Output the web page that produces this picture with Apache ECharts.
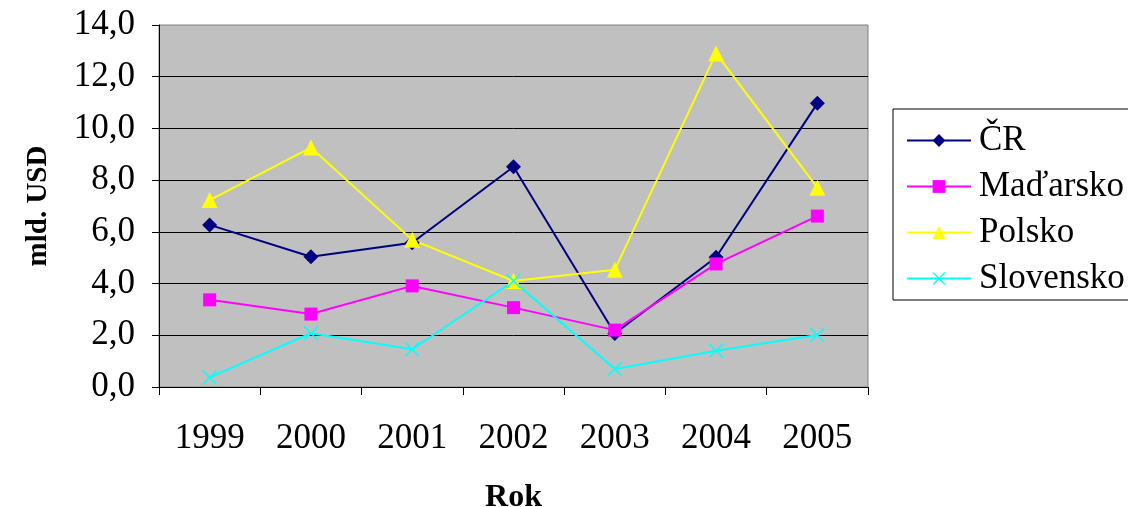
<!DOCTYPE html>
<html>
<head>
<meta charset="utf-8">
<script src="https://cdn.jsdelivr.net/npm/echarts@6/dist/echarts.min.js"></script>
<style>
  html, body { margin: 0; padding: 0; background: #ffffff; }
  #chart { width: 1128px; height: 507px; }
</style>
</head>
<body>
<div id="chart"></div>
<script>
// Years on the category axis
const years = ['1999', '2000', '2001', '2002', '2003', '2004', '2005'];

// Values in billions of USD
const cr        = [6.27, 5.04, 5.58, 8.52, 2.07, 5.02, 10.97];
const madarsko  = [3.37, 2.82, 3.91, 3.07, 2.20, 4.76, 6.61];
const polsko    = [7.23, 9.26, 5.69, 4.10, 4.53, 12.90, 7.71];
const slovensko = [0.37, 2.08, 1.46, 4.10, 0.70, 1.40, 2.01];

// Y axis ticks
const yTicks = [0, 2, 4, 6, 8, 10, 12, 14];

const FONT = '"Liberation Serif", "Times New Roman", serif';

// Filled "x" cross marker
const crossPath = 'path://M7,0L50,43L93,0L100,7L57,50L100,93L93,100L50,57L7,100L0,93L43,50L0,7Z';

function lineSeries(name, data, color, symbol, size) {
  return {
    name: name,
    type: 'line',
    data: data,
    symbol: symbol,
    symbolSize: size,
    showAllSymbol: true,
    animation: false,
    lineStyle: { color: color, width: 2 },
    itemStyle: { color: color },
    emphasis: { disabled: true }
  };
}

const chart = echarts.init(document.getElementById('chart'), null, { renderer: 'canvas' });

chart.setOption({
  animation: false,
  backgroundColor: '#ffffff',
  textStyle: { fontFamily: FONT },
  grid: {
    left: 159, right: 260, top: 25, bottom: 120,
    outerBoundsMode: 'none',
    containLabel: false,
    show: true,
    backgroundColor: '#c0c0c0',
    borderColor: '#808080',
    borderWidth: 1
  },
  legend: {
    orient: 'vertical',
    left: 893,
    top: 109,
    padding: [14, 14, 4, 13],
    itemWidth: 64,
    itemHeight: 16,
    itemGap: 11,
    backgroundColor: '#ffffff',
    borderColor: '#000000',
    borderWidth: 1,
    borderRadius: 0,
    textStyle: {
      fontFamily: FONT, fontSize: 35, color: '#000000',
      lineHeight: 34, padding: [0, 0, 0, 3]
    },
    data: ['ČR', 'Maďarsko', 'Polsko', 'Slovensko']
  },
  xAxis: {
    type: 'category',
    data: years,
    boundaryGap: true,
    name: 'Rok',
    nameLocation: 'middle',
    nameGap: 95,
    nameTextStyle: { fontFamily: FONT, fontSize: 32, fontWeight: 'bold', color: '#000000' },
    axisLine: { show: true, lineStyle: { color: '#000000', width: 1 } },
    axisTick: { show: true, length: 8, lineStyle: { color: '#000000' } },
    axisLabel: { fontFamily: FONT, fontSize: 35, color: '#000000', margin: 34 },
    splitLine: { show: false }
  },
  yAxis: {
    type: 'value',
    min: yTicks[0],
    max: yTicks[yTicks.length - 1],
    interval: 2,
    name: 'mld. USD',
    nameLocation: 'middle',
    nameGap: 106,
    nameRotate: 90,
    nameTextStyle: { fontFamily: FONT, fontSize: 29, fontWeight: 'bold', color: '#000000' },
    axisLine: { show: true, lineStyle: { color: '#000000', width: 1 } },
    axisTick: { show: true, length: 7, lineStyle: { color: '#000000' } },
    axisLabel: {
      fontFamily: FONT, fontSize: 35, color: '#000000', margin: 24,
      formatter: function (v) { return v.toFixed(1).replace('.', ','); }
    },
    splitLine: { show: true, showMaxLine: false, lineStyle: { color: '#000000', width: 1 } }
  },
  series: [
    lineSeries('ČR', cr, '#000080', 'diamond', 15),
    lineSeries('Maďarsko', madarsko, '#ff00ff', 'rect', 13),
    lineSeries('Polsko', polsko, '#ffff00', 'triangle', 16),
    lineSeries('Slovensko', slovensko, '#00ffff', crossPath, 15)
  ]
});
</script>
</body>
</html>
